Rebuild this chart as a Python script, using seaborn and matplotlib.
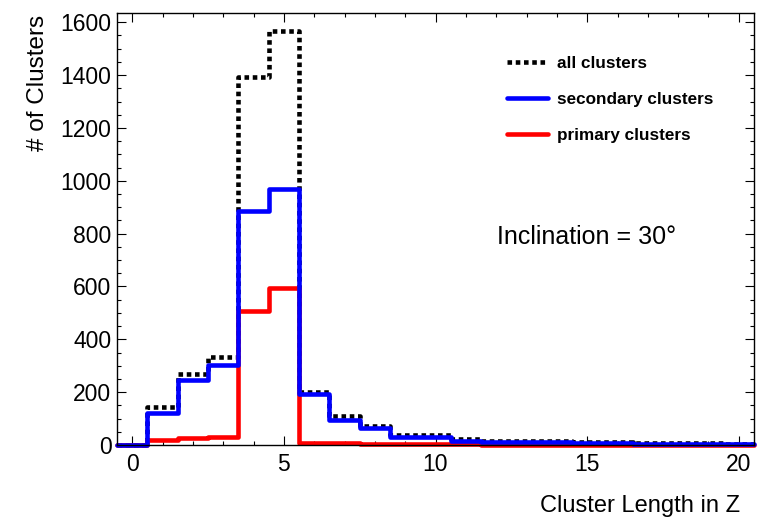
import matplotlib
matplotlib.use("Agg")
import matplotlib.pyplot as plt
from matplotlib.lines import Line2D
from matplotlib.ticker import MultipleLocator
import pandas as pd
import seaborn as sns

# bin centres (cluster length) and counts
cluster_length = list(range(0, 21))
all_clusters = [0, 144, 270, 332, 1394, 1565, 200, 108, 72, 38, 38, 21, 15, 15, 14, 12, 10, 8, 7, 6, 5]
secondary_clusters = [0, 123, 247, 304, 887, 970, 192, 95, 63, 29, 29, 14, 10, 10, 10, 7, 6, 4, 4, 3, 3]
primary_clusters = [0, 19, 25, 31, 507, 596, 9, 7, 5, 4, 4, 2, 1, 1, 1, 1, 1, 1, 1, 1, 1]
series_labels = ["all clusters", "secondary clusters", "primary clusters"]

df = pd.DataFrame({"length": cluster_length, "all": all_clusters,
                   "secondary": secondary_clusters, "primary": primary_clusters})

sns.set_theme(style="ticks")
plt.rcParams['font.family'] = ['Liberation Sans', 'DejaVu Sans']
plt.rcParams.update({"text.color": "black", "axes.labelcolor": "black",
                     "xtick.color": "black", "ytick.color": "black"})

fig = plt.figure(figsize=(7.57, 5.19), dpi=100)
ax = fig.add_axes([117 / 757, 1 - 445 / 519, 637 / 757, 432 / 519])

lw = 3.3
dots = (0, (1, 0.8))
for col, color, ls in [("all", "black", dots), ("primary", "#ff0000", "-"), ("secondary", "#0000ff", "-")]:
    sns.histplot(data=df, x="length", weights=col, binwidth=1, binrange=(-0.5, 20.5),
                 element="step", fill=False, color=color, linewidth=lw, linestyle=ls,
                 ax=ax, clip_on=False)

ax.set_xlim(-0.5, 20.5)
ax.set_ylim(0, 1635)
ax.xaxis.set_major_locator(MultipleLocator(5))
ax.xaxis.set_minor_locator(MultipleLocator(1))
ax.yaxis.set_major_locator(MultipleLocator(200))
ax.yaxis.set_minor_locator(MultipleLocator(50))
ax.tick_params(which="both", direction="in", top=True, right=True, width=0.8, color="black")
ax.tick_params(which="major", length=6.5)
ax.tick_params(which="minor", length=3.2)
ax.tick_params(axis="x", which="major", labelsize=16.5, pad=5.5)
ax.tick_params(axis="y", which="major", labelsize=16.5, pad=4)
for s in ax.spines.values():
    s.set_linewidth(1.0)
    s.set_color("black")

ax.set_xlabel("Cluster Length in Z", fontsize=17, loc="right")
ax.xaxis.set_label_coords((740 - 117) / 637, -0.115)
ax.set_ylabel("# of Clusters", fontsize=17.5, loc="top")
ax.yaxis.set_label_coords(-0.106, 0.995)

ax.text((497 - 117) / 637, (445 - 237) / 432, "Inclination = 30°", transform=ax.transAxes,
        fontsize=18, va="center", ha="left")

handles = [
    Line2D([], [], color="black", linewidth=lw, linestyle=dots),
    Line2D([], [], color="#0000ff", linewidth=lw),
    Line2D([], [], color="#ff0000", linewidth=lw),
]
ax.legend(handles, series_labels, loc="upper left", bbox_to_anchor=(507 / 757, 1 - 55.5 / 519),
          bbox_transform=fig.transFigure, frameon=False, borderpad=0, borderaxespad=0,
          handlelength=2.4, handletextpad=0.53, labelspacing=1.25,
          prop={"weight": "bold", "size": 12.3})

fig.savefig("out.png", dpi=100)
